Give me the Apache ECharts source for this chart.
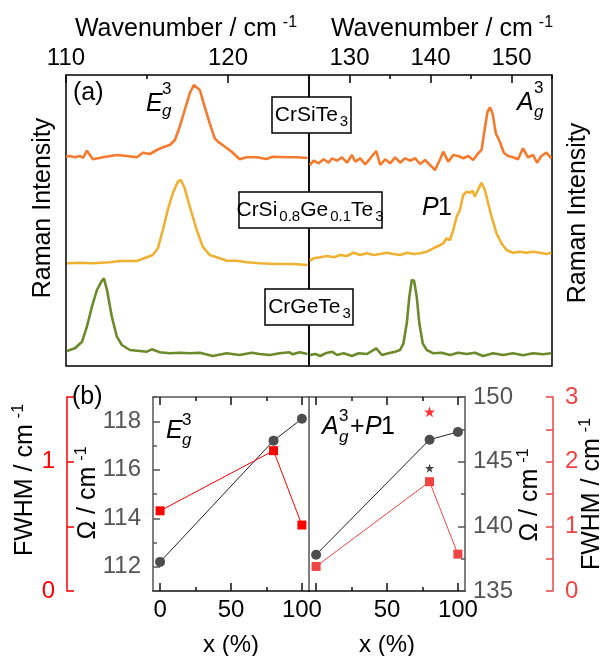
<!DOCTYPE html>
<html><head><meta charset="utf-8">
<script src="https://cdn.jsdelivr.net/npm/echarts@6.0.0/dist/echarts.min.js"></script>
<style>html,body{margin:0;padding:0;background:#fff}#c{width:604px;height:656px}</style>
</head><body><div id="c"></div>
<script>
// ---------- Panel (a): Raman spectra (intensity in arbitrary units, offset traces) ----------
// Left window 110-125 cm-1
const wnSiL  = [110.0,110.25,110.55,110.86,111.05,111.29,111.66,112.28,113.14,113.76,114.37,114.74,115.18,115.61,115.98,116.41,116.72,117.02,117.33,117.64,117.89,118.26,118.56,118.87,119.18,119.37,119.67,120.23,120.72,121.15,121.77,122.38,122.75,123.62,124.23,124.91];
const intSiL = [209.3,210,208.7,210,208,215.3,206.7,208.7,211,210,208.7,213.3,212,216,218.7,221,226,239.3,256,272.7,281,276,259.3,242.7,227.7,224.3,221,214.3,206.7,208.7,208.7,207,209.3,208.7,208.7,208];
const wnMixL  = [110.06,110.86,111.66,112.71,113.33,114.37,114.99,115.36,115.67,115.98,116.28,116.59,116.90,117.09,117.33,117.64,118.07,118.44,118.87,119.49,119.92,120.54,121.15,121.95,123.0,123.99,124.91];
const intMixL = [102.7,103.3,102.7,103.7,105,105,108.7,111,117.7,136,156,172.7,184.3,186,177.7,159.3,136,119.3,111,107.7,105.3,105.3,103.7,102.7,102,102,101];
const wnGeL  = [110.06,110.55,110.99,111.29,111.60,111.91,112.22,112.34,112.53,112.83,113.14,113.45,113.94,114.56,114.99,115.30,115.79,116.41,117.02,117.64,118.26,119.06,119.92,120.72,121.46,121.95,122.57,123.19,123.80,123.99,124.42,124.91];
const intGeL = [15,17.7,24.3,39.3,59.3,76,85.3,87.7,76,49.3,29.3,21,16,15,14.3,16.7,13.7,12.7,13.3,12.7,13.3,10,12.7,11,13.3,12,11,12.7,13.7,11.7,13.7,12];
// Right window 125-155 cm-1
const wnSiR  = [125.09,125.58,126.19,126.81,127.42,127.84,128.46,129.07,129.69,130.30,130.71,131.33,131.94,132.56,133.30,133.79,134.40,135.02,135.63,136.25,136.86,137.48,138.11,138.71,139.33,139.94,140.56,141.18,141.58,142.19,142.81,143.42,144.04,144.66,145.27,145.89,146.30,146.71,147.04,147.33,147.66,148.06,148.56,149.05,149.58,150.19,150.81,151.42,152.04,152.66,153.15,153.69,154.30,154.92];
const intSiR = [201,205.3,202.7,206.7,203.3,207.7,205.3,208.7,203.3,211,204.3,207.7,201.7,207.7,215,201,206.7,202.7,208.7,203.3,207.7,205.3,207.7,202,206,201,196,206.7,214.3,204.3,211,210,207.7,210,206,212.7,216,237.7,254.3,258.7,252.7,232.7,224.3,213.3,210,208.7,206.7,217.7,208.7,211,203.3,210,213.3,207.7];
const wnMixR  = [125.09,125.58,126.40,127.23,128.04,128.86,129.69,130.50,131.33,132.15,132.96,133.79,134.61,135.42,136.25,137.07,137.89,138.71,139.54,140.35,140.96,141.58,141.99,142.40,142.81,143.23,143.63,144.04,144.46,144.86,145.20,145.48,145.89,146.30,146.71,147.12,147.54,148.15,148.77,149.38,150.19,151.02,151.84,152.66,153.48,154.30,154.92];
const intMixR = [105.3,107.7,108.7,110,108.7,111,110,113.3,111,112.7,111,112,113.3,112,111,113.3,112,112.7,114.3,117.7,120,122.7,127.7,126,136,149.3,156,171,174.3,173.3,175.3,169.3,176.7,183.3,176,162.7,149.3,132.7,122.7,116,113.3,114.3,113.3,114.3,113.3,112,113.3];
const wnGeR  = [125.09,125.79,126.40,127.02,127.84,128.46,129.27,130.30,131.12,132.15,133.30,134.0,134.81,135.63,136.25,136.66,137.07,137.39,137.69,137.97,138.30,138.62,139.04,139.54,140.35,141.38,142.40,143.42,144.46,145.48,146.50,147.73,148.96,150.19,151.42,152.66,153.89,154.92];
const intGeR = [11,12,10,12.7,14.3,11,12.7,10,12.7,12,17.7,11,12.7,14.3,16,22.7,42.7,69.3,86,85.3,69.3,42.7,22.7,16,12.7,13.3,11,13.3,12,13.3,10,12.7,11,12.7,10.7,12.7,11.7,12.7];

// ---------- Panel (b): peak position and FWHM vs x ----------
const xPct    = [0, 80, 100];
const omegaEg = [112.2, 117.2, 118.1];
const fwhmEg  = [0.62, 1.085, 0.51];
const omegaAg = [137.8, 146.7, 147.3];
const fwhmAg  = [0.38, 1.69, 0.57];
const xP1 = [80];
const omegaP1 = [144.5];
const fwhmP1  = [2.77];

// ---------- Tick values ----------
const topTicksL = [110, 120], topMinorL = [115, 125];
const topTicksR = [130, 140, 150], topMinorR = [125, 135, 145, 155];
const xTicksB = [0, 50, 100], xMinorB = [25, 75];
const xLabelsBL = [0, 50, 100], xLabelsBR = [50, 100];
const omegaETicks = [112, 114, 116, 118], omegaEMinor = [111, 113, 115, 117, 119];
const fwhmETicks = [0, 1], fwhmEMinor = [0.5, 1.5];
const omegaATicks = [135, 140, 145, 150], omegaAMinor = [137.5, 142.5, 147.5];
const fwhmATicks = [0, 1, 2, 3], fwhmAMinor = [0.5, 1.5, 2.5];

const FONT = '"Liberation Sans", Arial, sans-serif';
const zip = (a, b) => a.map((v, i) => [v, b[i]]);

function xAx(o) {
  return Object.assign({
    type: 'value', splitLine: {show: false},
    axisLine: {show: false, onZero: false},
    axisTick: {show: false}, axisLabel: {show: false}
  }, o);
}
function ticks(vals, len, color, width) {
  return {show: true, inside: true, length: len, customValues: vals, lineStyle: {color: color, width: width || 1.5}};
}
function labels(vals, color, size, margin) {
  return {show: true, customValues: vals, color: color, fontSize: size, fontFamily: FONT, margin: margin};
}

const GRAY = '#555555', RED = '#ff0000', RED2 = '#ee4444';
const TS = 24; // tick label size

const xAxis = [
  // 0,1 : panel a left top
  xAx({gridIndex: 0, position: 'top', min: 110, max: 125, axisTick: ticks(topTicksL, 8, '#000'), axisLabel: labels(topTicksL, '#000', TS, 5)}),
  xAx({gridIndex: 0, position: 'top', min: 110, max: 125, axisTick: ticks(topMinorL, 4, '#000')}),
  // 2,3 : panel a right top
  xAx({gridIndex: 1, position: 'top', min: 125, max: 155, axisTick: ticks(topTicksR, 8, '#000'), axisLabel: labels(topTicksR, '#000', TS, 5)}),
  xAx({gridIndex: 1, position: 'top', min: 125, max: 155, axisTick: ticks(topMinorR, 4, '#000')}),
  // 4..7 : panel b left
  xAx({gridIndex: 2, position: 'bottom', min: -5, max: 105, axisLine: {show: true, onZero: false, lineStyle: {color: '#111', width: 1.5}},
       axisTick: ticks(xTicksB, 8, '#111'), axisLabel: labels(xLabelsBL, '#000', TS, 7),
       name: 'x (%)', nameLocation: 'middle', nameGap: 42, nameTextStyle: {fontSize: 24, fontFamily: FONT, color: '#000'}}),
  xAx({gridIndex: 2, position: 'bottom', min: -5, max: 105, axisTick: ticks(xMinorB, 4, '#111')}),
  xAx({gridIndex: 2, position: 'top', min: -5, max: 105, axisLine: {show: true, onZero: false, lineStyle: {color: GRAY, width: 1.5}}, axisTick: ticks(xTicksB, 8, '#111')}),
  xAx({gridIndex: 2, position: 'top', min: -5, max: 105, axisTick: ticks(xMinorB, 4, '#111')}),
  // 8..11 : panel b right
  xAx({gridIndex: 3, position: 'bottom', min: -5, max: 105, axisLine: {show: true, onZero: false, lineStyle: {color: '#111', width: 1.5}},
       axisTick: ticks(xTicksB, 8, '#111'), axisLabel: labels(xLabelsBR, '#000', TS, 7),
       name: 'x (%)', nameLocation: 'middle', nameGap: 42, nameTextStyle: {fontSize: 24, fontFamily: FONT, color: '#000'}}),
  xAx({gridIndex: 3, position: 'bottom', min: -5, max: 105, axisTick: ticks(xMinorB, 4, '#111')}),
  xAx({gridIndex: 3, position: 'top', min: -5, max: 105, axisLine: {show: true, onZero: false, lineStyle: {color: GRAY, width: 1.5}}, axisTick: ticks(xTicksB, 8, '#111')}),
  xAx({gridIndex: 3, position: 'top', min: -5, max: 105, axisTick: ticks(xMinorB, 4, '#111')})
];

const yAxis = [
  xAx({gridIndex: 0, min: 0, max: 291, show: false}),
  xAx({gridIndex: 1, min: 0, max: 291, show: false}),
  // 2,3 : omega Eg (left)
  xAx({gridIndex: 2, position: 'left', min: 111, max: 119, axisLine: {show: true, onZero: false, lineStyle: {color: GRAY, width: 1.5}},
       axisTick: ticks(omegaETicks, 7, GRAY), axisLabel: labels(omegaETicks, GRAY, TS, 12)}),
  xAx({gridIndex: 2, position: 'left', min: 111, max: 119, axisTick: ticks(omegaEMinor, 4, GRAY)}),
  // 4,5 : FWHM Eg (left outer)
  xAx({gridIndex: 2, position: 'left', offset: 86, min: 0, max: 1.5, axisLine: {show: true, onZero: false, lineStyle: {color: RED, width: 1.5}},
       axisTick: ticks(fwhmETicks, 7, RED), axisLabel: labels(fwhmETicks, RED, TS, 12)}),
  xAx({gridIndex: 2, position: 'left', offset: 86, min: 0, max: 1.5, axisTick: ticks(fwhmEMinor, 7, RED)}),
  // 6 : divider
  xAx({gridIndex: 2, position: 'right', min: 0, max: 1, axisLine: {show: true, onZero: false, lineStyle: {color: GRAY, width: 1.5}}}),
  // 7,8 : omega Ag (right)
  xAx({gridIndex: 3, position: 'right', min: 135, max: 150, axisLine: {show: true, onZero: false, lineStyle: {color: GRAY, width: 1.5}},
       axisTick: ticks(omegaATicks, 7, GRAY), axisLabel: labels(omegaATicks, GRAY, TS, 8)}),
  xAx({gridIndex: 3, position: 'right', min: 135, max: 150, axisTick: ticks(omegaAMinor, 4, GRAY)}),
  // 9,10 : FWHM Ag (right outer)
  xAx({gridIndex: 3, position: 'right', offset: 88, min: 0, max: 3, axisLine: {show: true, onZero: false, lineStyle: {color: RED2, width: 1.5}},
       axisTick: ticks(fwhmATicks, 7, RED2), axisLabel: labels(fwhmATicks, RED2, TS, 12)}),
  xAx({gridIndex: 3, position: 'right', offset: 88, min: 0, max: 3, axisTick: ticks(fwhmAMinor, 7, RED2)})
];

const STAR = 'path://M50 0 L61.8 35.1 L98.9 35.1 L69 56.9 L80.3 91.9 L50 70.2 L19.7 91.9 L31 56.9 L1.1 35.1 L38.2 35.1 Z';
const ORANGE = '#f47b2e', YELLOW = '#efb132', GREEN = '#6b8a2a';

function spec(xi, yi, xs, ys, color) {
  return {type: 'line', xAxisIndex: xi, yAxisIndex: yi, data: zip(xs, ys), showSymbol: false, symbol: 'none',
          lineStyle: {color: color, width: 2.6}, silent: true, animation: false, z: 3};
}

const series = [
  spec(0, 0, wnSiL, intSiL, ORANGE), spec(0, 0, wnMixL, intMixL, YELLOW), spec(0, 0, wnGeL, intGeL, GREEN),
  spec(2, 1, wnSiR, intSiR, ORANGE), spec(2, 1, wnMixR, intMixR, YELLOW), spec(2, 1, wnGeR, intGeR, GREEN),
  {type: 'line', xAxisIndex: 4, yAxisIndex: 2, data: zip(xPct, omegaEg), symbol: 'circle', symbolSize: 10,
   itemStyle: {color: '#4d4d4d'}, lineStyle: {color: '#222', width: 1}, animation: false},
  {type: 'line', xAxisIndex: 4, yAxisIndex: 4, data: zip(xPct, fwhmEg), symbol: 'rect', symbolSize: 9,
   itemStyle: {color: RED}, lineStyle: {color: RED, width: 1}, animation: false},
  {type: 'line', xAxisIndex: 8, yAxisIndex: 7, data: zip(xPct, omegaAg), symbol: 'circle', symbolSize: 10,
   itemStyle: {color: '#4d4d4d'}, lineStyle: {color: '#222', width: 1}, animation: false},
  {type: 'line', xAxisIndex: 8, yAxisIndex: 9, data: zip(xPct, fwhmAg), symbol: 'rect', symbolSize: 9,
   itemStyle: {color: RED2}, lineStyle: {color: RED2, width: 1}, animation: false},
  {type: 'scatter', xAxisIndex: 8, yAxisIndex: 7, data: zip(xP1, omegaP1), symbol: STAR, symbolSize: 9,
   itemStyle: {color: '#111'}, animation: false},
  {type: 'scatter', xAxisIndex: 8, yAxisIndex: 9, data: zip(xP1, fwhmP1), symbol: STAR, symbolSize: 11,
   itemStyle: {color: RED}, animation: false}
];

function txt(x, y, text, size, extra) {
  return {type: 'text', x: x, y: y, z: 100, style: Object.assign({text: text, fontSize: size, fontFamily: FONT, fill: '#000',
    align: 'left', verticalAlign: 'middle'}, extra || {})};
}
function richTxt(x, y, text, rich, extra, rot) {
  return {type: 'text', x: x, y: y, z: 100, rotation: rot || 0, style: Object.assign({text: text, rich: rich, fontFamily: FONT,
    align: 'center', verticalAlign: 'middle'}, extra || {})};
}
function supRich(size, supSize, color) {
  return {
    m: {fontSize: size, fontFamily: FONT, color: color, lineHeight: size + 4},
    s: {fontSize: supSize, fontFamily: FONT, color: color, lineHeight: supSize, verticalAlign: 'top', padding: [0, 0, 0, 6]}
  };
}
function chemRich() {
  return {
    m: {fontSize: 21, fontFamily: FONT, color: '#000', lineHeight: 28},
    s: {fontSize: 15, fontFamily: FONT, color: '#000', lineHeight: 14, verticalAlign: 'bottom', padding: [0, 0, 0, 2]}
  };
}
function box(x, y, w, h) {
  return {type: 'rect', z: 90, shape: {x: x, y: y, width: w, height: h}, style: {fill: '#fff', stroke: '#000', lineWidth: 1.5}};
}

const FS = 25;
const graphic = [
  richTxt(186, 29, '{m|Wavenumber / cm}{s|-1}', supRich(FS, 16, '#000')),
  richTxt(442, 29, '{m|Wavenumber / cm}{s|-1}', supRich(FS, 16, '#000')),
  txt(43, 208, 'Raman Intensity', FS, {align: 'center'}),
  txt(578, 213, 'Raman Intensity', FS, {align: 'center'}),
  txt(73, 93, '(a)', FS),
  txt(146, 104, 'E', FS, {fontStyle: 'italic'}),
  txt(162, 89, '3', 17),
  txt(162, 111, 'g', 17, {fontStyle: 'italic'}),
  txt(517, 103, 'A', FS, {fontStyle: 'italic'}),
  txt(534, 88, '3', 17),
  txt(534, 112, 'g', 17, {fontStyle: 'italic'}),
  txt(422, 208, 'P', FS, {fontStyle: 'italic'}),
  txt(438, 208, '1', FS),
  box(272, 97, 79, 36),
  richTxt(311.5, 115, '{m|CrSiTe}{s|3}', chemRich()),
  box(239, 192, 143, 36),
  richTxt(310, 210, '{m|CrSi}{s|0.8}{m|Ge}{s|0.1}{m|Te}{s|3}', chemRich()),
  box(265, 289, 88, 36),
  richTxt(309.5, 307, '{m|CrGeTe}{s|3}', chemRich()),
  // panel b
  txt(72, 397, '(b)', FS),
  txt(166, 431, 'E', FS, {fontStyle: 'italic'}),
  txt(182, 420, '3', 17),
  txt(182, 440, 'g', 17, {fontStyle: 'italic'}),
  txt(322, 427, 'A', FS, {fontStyle: 'italic'}),
  txt(339, 416, '3', 17),
  txt(339, 437, 'g', 17, {fontStyle: 'italic'}),
  txt(350, 427, '+', FS),
  txt(365, 427, 'P', FS, {fontStyle: 'italic'}),
  txt(381, 427, '1', FS),
  richTxt(25, 480, '{m|FWHM / cm}{s|-1}', supRich(FS, 16, RED), {}, Math.PI / 2),
  richTxt(88, 493, '{m|Ω / cm}{s|-1}', supRich(FS, 16, GRAY), {}, Math.PI / 2),
  richTxt(530, 495, '{m|Ω / cm}{s|-1}', supRich(FS, 16, GRAY), {}, Math.PI / 2),
  richTxt(592, 494, '{m|FWHM / cm}{s|-1}', supRich(FS, 16, RED2), {}, Math.PI / 2)
];
graphic[2].rotation = Math.PI / 2;
graphic[3].rotation = Math.PI / 2;

const chart = echarts.init(document.getElementById('c'), null, {renderer: 'canvas'});
chart.setOption({
  animation: false,
  backgroundColor: '#fff',
  grid: [
    {left: 66, top: 75, width: 243, height: 291, show: true, borderColor: '#000', borderWidth: 1.5, backgroundColor: 'transparent', outerBoundsMode: 'none'},
    {left: 309, top: 75, width: 243, height: 291, show: true, borderColor: '#000', borderWidth: 1.5, backgroundColor: 'transparent', outerBoundsMode: 'none'},
    {left: 153, top: 397, width: 156, height: 194, outerBoundsMode: 'none'},
    {left: 309, top: 397, width: 156, height: 194, outerBoundsMode: 'none'}
  ],
  xAxis: xAxis,
  yAxis: yAxis,
  series: series,
  graphic: graphic
});
</script></body></html>
